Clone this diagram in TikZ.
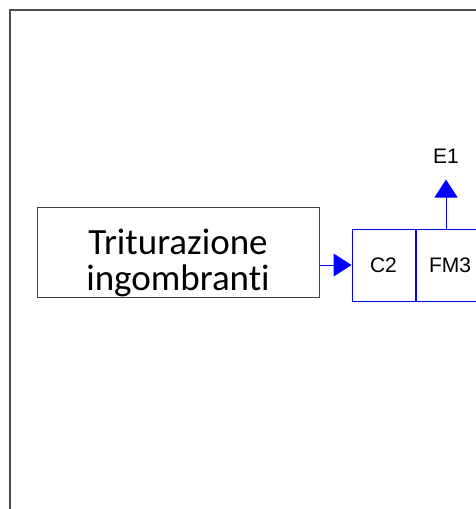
\documentclass[tikz,border=0pt]{standalone}
\usepackage{fontspec}
\setmainfont[Ligatures=NoCommon]{Carlito}
\newfontfamily\arialfont{Liberation Sans}
\usetikzlibrary{arrows.meta}
\tikzset{
    stagebox/.style={draw=black!75,line width=1pt,inner sep=0pt,
        minimum width=282pt,minimum height=90pt},
    stagetext/.style={align=center,inner sep=0pt,font=\fontsize{37}{36}\selectfont},
    unitbox/.style={draw=blue,line width=1pt,inner sep=0pt,minimum height=72pt,
        font=\arialfont\fontsize{21}{24}\selectfont},
    flow/.style={draw=blue,line width=1pt,-{Triangle[length=18pt,width=23pt]}},
}
\begin{document}
\begin{tikzpicture}[x=1pt,y=-1pt]
        \useasboundingbox (0,0) rectangle (476,509);
        %% frame
        \draw[black!70,line width=2pt] (476,9.5) -- (9.5,9.5) -- (9.5,509);
        %% stage
        \node[stagebox] (trit) at (178,252) {};
        \node[stagetext] (tritlabel) at ([yshift=-11pt]trit.center) {Triturazione\\ingombranti};
        %% units
        \node[unitbox,minimum width=63pt] (C2) at (383.5,265) {C2};
        \node[unitbox,minimum width=68pt,anchor=west] (FM3) at (C2.east) {FM3};
        %% flows
        \draw[flow] (trit.east |- C2.west) -- (C2.west);
        \coordinate (out) at ([xshift=-4pt]FM3.north);
        \coordinate (E1pt) at ([yshift=49pt]out);
        \draw[flow] (out) -- (E1pt);
        \node[font=\arialfont\fontsize{21}{24}\selectfont,anchor=south,inner sep=0pt] (E1) at ([yshift=16pt]E1pt) {E1};
    \end{tikzpicture}
\end{document}
